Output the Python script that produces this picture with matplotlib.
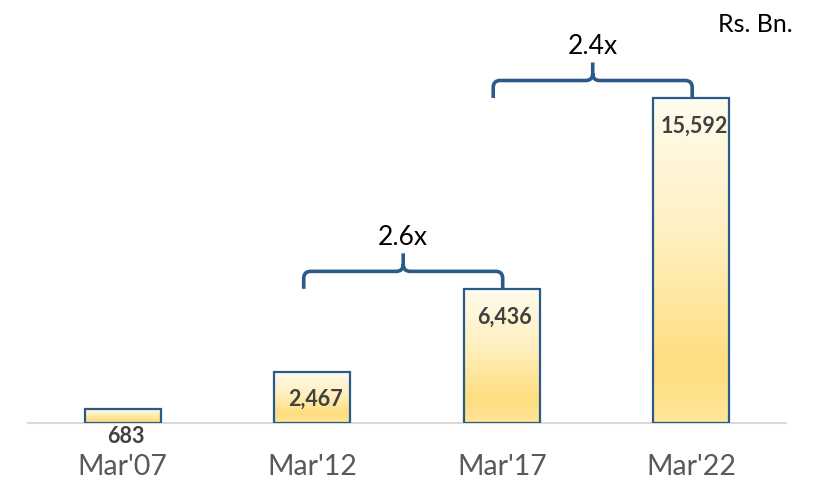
import numpy as np
import matplotlib.pyplot as plt
from matplotlib.colors import LinearSegmentedColormap
from matplotlib.path import Path
from matplotlib.patches import PathPatch, Rectangle

# data
periods = ["Mar'07", "Mar'12", "Mar'17", "Mar'22"]
values = [683, 2467, 6436, 15592]
growth_labels = ['2.6x', '2.4x']
growth_spans = [(1, 2), (2, 3)]
unit_label = 'Rs. Bn.'

plt.rcParams['font.family'] = ['Lato', 'DejaVu Sans']

edge_col = '#2B5A88'
brace_col = '#2B5A88'
gold = LinearSegmentedColormap.from_list(
    'gold', [(0, '#FFFCEE'), (0.45, '#FFEFBD'), (0.82, '#FFDE80'), (1, '#FFE699')])

W, H = 818, 479
fig = plt.figure(figsize=(W / 100, H / 100), dpi=100)
ax = fig.add_axes([28 / W, 56 / H, 758 / W, 423 / H])

px_per_unit = 325 / 15592
ax.set_xlim(-0.5, 3.5)
ax.set_ylim(0, 423 / px_per_unit)
u = 1 / px_per_unit  # data units per pixel (y)

bw = 0.40
grad = np.linspace(0, 1, 256).reshape(-1, 1)
for i, v in enumerate(values):
    ax.imshow(grad, cmap=gold, aspect='auto', origin='upper',
              extent=(i - bw / 2, i + bw / 2, 0, v), zorder=2)
    ax.add_patch(Rectangle((i - bw / 2, 0), bw, v, fill=False,
                           edgecolor=edge_col, lw=1.6, zorder=3))
    ax.annotate(f'{v:,}', (i, v), xytext=(3, -28), textcoords='offset pixels',
                ha='center', va='center', fontsize=15.5, fontweight='bold',
                color='#404040', zorder=4)

# growth braces
xpx = 1 / 189.5
for (a, b), lab in zip(growth_spans, growth_labels):
    x0, x1 = a - 0.045, b + 0.005
    xm = (x0 + x1) / 2
    y0 = values[b]
    y1 = y0 + 17.5 * u
    y2 = y1 + 18 * u
    rx, ry = 7 * xpx, 7 * u
    verts = [(x0, y0), (x0, y1 - ry), (x0, y1), (x0 + rx, y1),
             (xm - rx, y1), (xm, y1), (xm, y1 + ry), (xm, y2),
             (xm, y1 + ry), (xm, y1), (xm + rx, y1),
             (x1 - rx, y1), (x1, y1), (x1, y1 - ry), (x1, y0)]
    codes = [Path.MOVETO, Path.LINETO, Path.CURVE3, Path.CURVE3,
             Path.LINETO, Path.CURVE3, Path.CURVE3, Path.LINETO,
             Path.MOVETO, Path.CURVE3, Path.CURVE3,
             Path.LINETO, Path.CURVE3, Path.CURVE3, Path.LINETO]
    ax.add_patch(PathPatch(Path(verts, codes), fill=False, edgecolor=brace_col,
                           lw=2.6, capstyle='butt', joinstyle='round', zorder=3))
    ax.text(xm, y2 + 16 * u, lab, ha='center', va='center', fontsize=19,
            color='black')

ax.text(3.34, 399 * u, unit_label, ha='center', va='center', fontsize=18,
        color='black')

for s in ['top', 'right', 'left']:
    ax.spines[s].set_visible(False)
ax.spines['bottom'].set_color('#D9D9D9')
ax.spines['bottom'].set_linewidth(1.5)
ax.set_yticks([])
ax.set_xticks(range(len(periods)))
ax.set_xticklabels(periods, fontsize=20.5, color='#595959')
ax.tick_params(axis='x', length=0, pad=22)

fig.savefig('out.png', dpi=100)
